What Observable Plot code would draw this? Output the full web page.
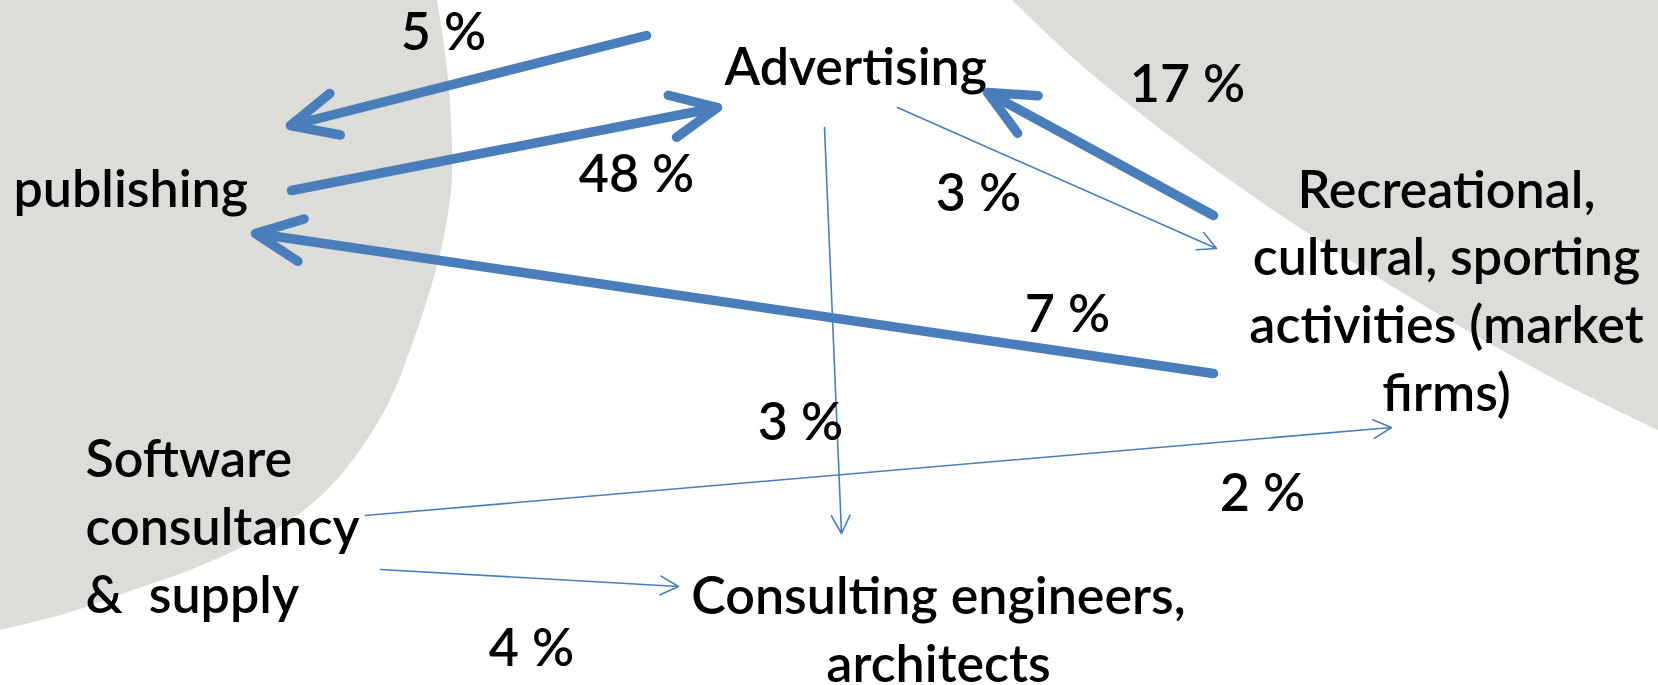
<!DOCTYPE html>
<html>
<head>
<meta charset="utf-8">
<script src="https://cdn.jsdelivr.net/npm/d3@7"></script>
<script src="https://cdn.jsdelivr.net/npm/@observablehq/plot@0.6"></script>
<style>
  html, body { margin: 0; padding: 0; background: #ffffff; }
  #chart svg { display: block; }
</style>
</head>
<body>
<div id="chart"></div>
<script>
// ---------- Data ----------
const sectorKeys   = ["pub", "adv", "rec", "soft", "cons"];
const sectorLabels = [
  "publishing",
  "Advertising",
  "Recreational,\ncultural, sporting\nactivities (market\nfirms)",
  "Software\nconsultancy\n&  supply",
  "Consulting engineers,\narchitects"
];
const flowSource = ["adv", "pub", "rec", "rec", "adv", "adv", "soft", "soft"];
const flowTarget = ["pub", "adv", "adv", "pub", "rec", "cons", "rec", "cons"];
const flowShare  = [5, 48, 17, 7, 3, 3, 2, 4];

// ---------- Layout (diagram positions, kept apart from the data) ----------
const sectorLayout = {
  pub:  {x: 13,   y: 206, anchor: "start"},
  adv:  {x: 724,  y: 84,  anchor: "start"},
  rec:  {x: 1446, y: 410, anchor: "middle"},
  soft: {x: 85,   y: 612, anchor: "start"},
  cons: {x: 938,  y: 681, anchor: "middle"}
};
// arrow start / end and label centre for each flow, in flow order
const flowX1 = [646, 291, 1213, 1213, 897, 824, 365, 380];
const flowY1 = [35, 190, 215, 373, 107, 127, 515, 569];
const flowX2 = [290, 717, 987, 255, 1216, 841, 1391, 678];
const flowY2 = [125, 107, 92, 233, 248, 533, 427, 586];
const labelX = [443, 636, 1187, 1067, 978, 800, 1262, 531];
const labelY = [33, 175, 85, 315, 194, 423, 494, 649];

// background shapes (boundary points of the two grey discs)
const leftEdgeY  = [0, 60, 120, 175, 200, 250, 300, 350, 400, 450, 490, 520, 543, 570, 590, 613, 630];
const leftEdgeX  = [437, 446, 451, 452, 450, 441, 427, 410, 390, 360, 327, 290, 250, 190, 133, 67, 0];
const rightEdgeX = [1012, 1080, 1150, 1220, 1300, 1390, 1480, 1570, 1658];
const rightEdgeY = [0, 64, 121, 173, 228, 285, 338, 387, 430];

// ---------- Tables ----------
const sectors = sectorKeys.map((k, i) => ({key: k, label: sectorLabels[i], ...sectorLayout[k]}));
const flows = flowShare.map((v, i) => ({
  source: flowSource[i], target: flowTarget[i], share: v,
  x1: flowX1[i], y1: flowY1[i], x2: flowX2[i], y2: flowY2[i],
  lx: labelX[i], ly: labelY[i]
}));
const leftShape = leftEdgeY.map((y, i) => ({y, x: leftEdgeX[i]}));
const rightShape = rightEdgeX.map((x, i) => ({x, y: rightEdgeY[i]}));

const thick = flows.filter(d => d.share >= 5);
const thin = flows.filter(d => d.share < 5);

const BLUE = "#4a7ebb";
const GREY = "#dcddd8";
const FONT = "Lato, 'Open Sans', sans-serif";
const FS = 52;
const FW = 600;

const chart = Plot.plot({
  width: 1658,
  height: 685,
  margin: 0,
  style: {background: "#ffffff", fontFamily: FONT},
  x: {domain: [0, 1658], range: [0, 1658], axis: null},
  y: {domain: [0, 685], range: [0, 685], axis: null},
  marks: [
    Plot.areaX(leftShape, {y: "y", x1: 0, x2: "x", fill: GREY, curve: "catmull-rom"}),
    Plot.areaY(rightShape, {x: "x", y1: 0, y2: "y", fill: GREY, curve: "catmull-rom"}),
    Plot.arrow(thick, {
      x1: "x1", y1: "y1", x2: "x2", y2: "y2",
      stroke: BLUE, strokeWidth: 9.5, headLength: 8, headAngle: 50,
      strokeLinecap: "round", strokeLinejoin: "round"
    }),
    Plot.arrow(thin, {
      x1: "x1", y1: "y1", x2: "x2", y2: "y2",
      stroke: BLUE, strokeWidth: 1.6, headLength: 19, headAngle: 55,
      strokeLinecap: "round"
    }),
    Plot.text(sectors.filter(d => d.anchor === "start"), {
      x: "x", y: "y", text: "label", textAnchor: "start", lineAnchor: "bottom",
      lineHeight: 1.3, fontSize: FS, fontWeight: FW, fontFamily: FONT, fill: "#000"
    }),
    Plot.text(sectors.filter(d => d.anchor === "middle"), {
      x: "x", y: "y", text: "label", textAnchor: "middle", lineAnchor: "bottom",
      lineHeight: 1.3, fontSize: FS, fontWeight: FW, fontFamily: FONT, fill: "#000"
    }),
    Plot.text(flows, {
      x: "lx", y: "ly", text: d => `${d.share} %`, textAnchor: "middle", lineAnchor: "middle",
      fontSize: FS, fontWeight: FW, fontFamily: FONT, fill: "#000"
    })
  ]
});
document.getElementById("chart").appendChild(chart);
</script>
</body>
</html>
